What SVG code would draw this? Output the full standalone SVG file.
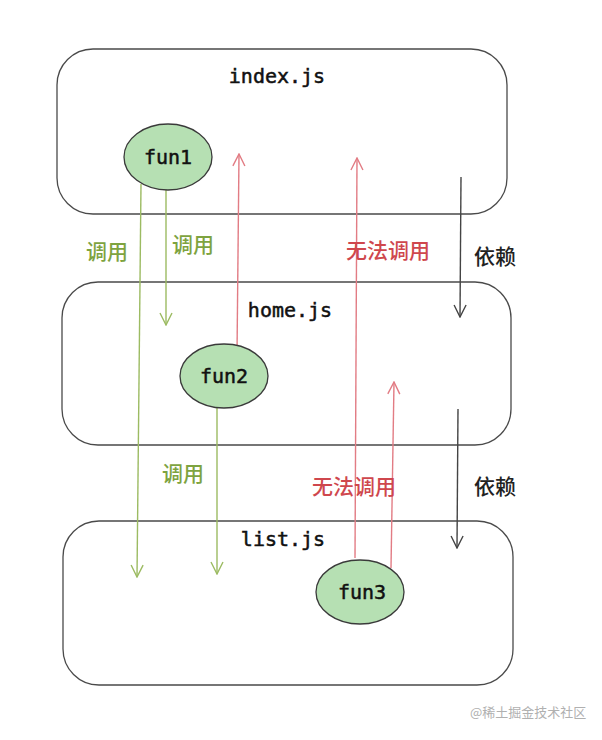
<svg xmlns="http://www.w3.org/2000/svg" width="602" height="740" viewBox="0 0 602 740">
<style>
.box{fill:none;stroke:#4a4a4a;stroke-width:1.3}
.fn{fill:#b6e0b3;stroke:#3a3a3a;stroke-width:1.3}
.mono{font-family:"DejaVu Sans Mono","Liberation Mono",monospace;font-size:20px;fill:#111;stroke:#111;stroke-width:0.5;text-anchor:middle}
.cjk{font-family:"Noto Sans CJK SC","Noto Sans",sans-serif;font-size:21px;font-weight:500}
.g{stroke:#9cbb62;stroke-width:1.4;fill:none}
.r{stroke:#e27c84;stroke-width:1.4;fill:none}
.d{stroke:#444;stroke-width:1.4;fill:none}
.gt{fill:#7ea33f}
.rt{fill:#cf474d}
.dt{fill:#222}
</style>
<defs>
<marker id="mg" markerWidth="14" markerHeight="14" refX="13" refY="7" orient="auto" markerUnits="userSpaceOnUse" viewBox="0 0 14 14"><path d="M1,1 L13,7 L1,13" fill="none" stroke="#9cbb62" stroke-width="1.4"/></marker>
<marker id="mr" markerWidth="14" markerHeight="14" refX="13" refY="7" orient="auto" markerUnits="userSpaceOnUse" viewBox="0 0 14 14"><path d="M1,1 L13,7 L1,13" fill="none" stroke="#e27c84" stroke-width="1.4"/></marker>
<marker id="md" markerWidth="14" markerHeight="14" refX="13" refY="7" orient="auto" markerUnits="userSpaceOnUse" viewBox="0 0 14 14"><path d="M1,1 L13,7 L1,13" fill="none" stroke="#444" stroke-width="1.4"/></marker>
</defs>
<rect width="602" height="740" fill="#fff"/>
<g id="index">
<rect class="box" x="57" y="49" width="450" height="165" rx="36"/>
<text class="mono" x="277" y="83">index.js</text>
</g>
<g id="home">
<rect class="box" x="62" y="282" width="449" height="163" rx="36"/>
<text class="mono" x="290" y="317">home.js</text>
</g>
<g id="list">
<rect class="box" x="63" y="521" width="450" height="164" rx="36"/>
<text class="mono" x="283" y="546">list.js</text>
</g>
<g id="connectors">
<path class="g" d="M141,184 L137,577" marker-end="url(#mg)"/>
<path class="g" d="M166,190 L166,325" marker-end="url(#mg)"/>
<path class="g" d="M217,407 L217,574" marker-end="url(#mg)"/>
<path class="r" d="M237,355 L239,154" marker-end="url(#mr)"/>
<path class="r" d="M355,558 L357,158" marker-end="url(#mr)"/>
<path class="r" d="M391,568 L394,382" marker-end="url(#mr)"/>
<path class="d" d="M461,177 L460,317" marker-end="url(#md)"/>
<path class="d" d="M458,409 L457,548" marker-end="url(#md)"/>
</g>
<g id="fun1">
<ellipse class="fn" cx="168" cy="157" rx="44" ry="33"/>
<text class="mono" x="168" y="164">fun1</text>
</g>
<g id="fun2">
<ellipse class="fn" cx="224" cy="376" rx="44" ry="32"/>
<text class="mono" x="224" y="383">fun2</text>
</g>
<g id="fun3">
<ellipse class="fn" cx="360" cy="592" rx="44" ry="32"/>
<text class="mono" x="362" y="599">fun3</text>
</g>
<g id="labels">
<text class="cjk gt" x="86" y="259">调用</text>
<text class="cjk gt" x="172" y="252">调用</text>
<text class="cjk rt" x="346" y="258">无法调用</text>
<text class="cjk dt" x="474" y="264">依赖</text>
<text class="cjk gt" x="162" y="481">调用</text>
<text class="cjk rt" x="312" y="494">无法调用</text>
<text class="cjk dt" x="474" y="494">依赖</text>
</g>
<text x="470" y="717" font-family="Noto Sans CJK SC, sans-serif" font-size="13" fill="#b0b0b0">@稀土掘金技术社区</text>
</svg>
